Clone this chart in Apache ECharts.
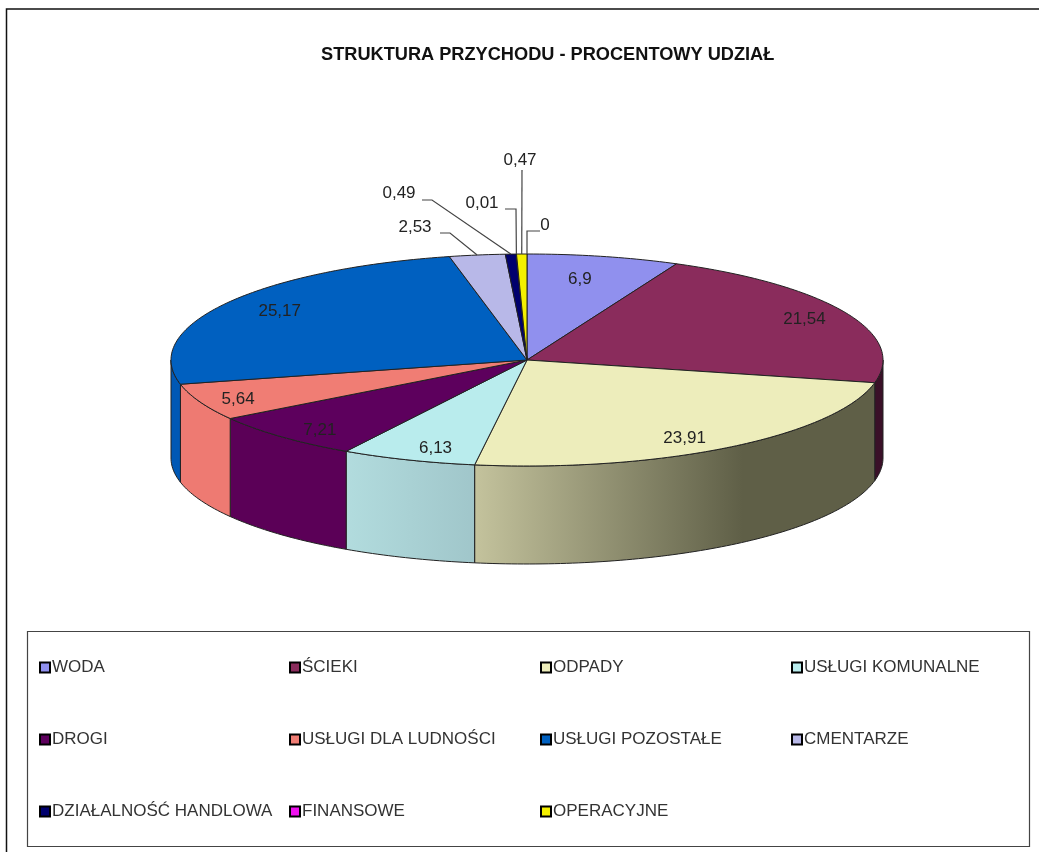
<!DOCTYPE html>
<html>
<head>
<meta charset="utf-8">
<style>
  html, body { margin: 0; padding: 0; background: #fff; }
  #chart { width: 1039px; height: 852px; }
</style>
<script src="https://cdn.jsdelivr.net/npm/echarts@6/dist/echarts.min.js"></script>
</head>
<body>
<div id="chart"></div>
<script>
// dane
var categories = ['WODA', 'ŚCIEKI', 'ODPADY', 'USŁUGI KOMUNALNE', 'DROGI', 'USŁUGI DLA LUDNOŚCI',
  'USŁUGI POZOSTAŁE', 'CMENTARZE', 'DZIAŁALNOŚĆ HANDLOWA', 'FINANSOWE', 'OPERACYJNE', ''];
var values = [6.9, 21.54, 23.91, 6.13, 7.21, 5.64, 25.17, 2.53, 0.49, 0.01, 0.47, 0];

var topColors = ['#9090ee', '#8a2c5c', '#ededbb', '#b9eced', '#5d005d', '#f07d74',
  '#0060c0', '#b8b8e8', '#00006e', '#ee10ee', '#f4f000', '#ffffff'];
var sideColors = ['#5f5f9a', '#3a1028', null, null, '#5b0057', '#ee7a72',
  '#0058b5', '#9090c0', '#00004a', '#a000a0', '#b0b000', '#ffffff'];

var legendColumns = [
  ['WODA', 'DROGI', 'DZIAŁALNOŚĆ HANDLOWA'],
  ['ŚCIEKI', 'USŁUGI DLA LUDNOŚCI', 'FINANSOWE'],
  ['ODPADY', 'USŁUGI POZOSTAŁE', 'OPERACYJNE'],
  ['USŁUGI KOMUNALNE', 'CMENTARZE']
];
var legendLefts = [39, 289, 540, 791];

// geometria "3D"
var cx = 527, cy = 360, rx = 356, ry = 106, depth = 98;

// polozenie etykiet wewnatrz wycinka jako ulamek promienia [x, y]
var labelFactors = [[0.69, 0.78], [0.87, 0.87], [0.78, 0.9], [0.77, 0.88], [0.845, 0.92], [0.884, 0.93], [0.82, 0.87]];
// etykiety z linia odniesienia: indeks wycinka -> tekst i kolanko linii
var outerLabels = {
  7: { text: [415, 227], line: [[440, 233], [450, 233]] },
  8: { text: [399, 193], line: [[422, 200], [432, 200]] },
  9: { text: [482, 203], line: [[505, 209], [516, 209]] },
  10: { text: [520, 160], line: [[522, 170]] },
  11: { text: [545, 225], line: [[540, 231], [527, 231]] }
};

function rimPoint(pct, dy) {
  var a = pct * 3.6 * Math.PI / 180;
  return [cx + rx * Math.sin(a), cy - ry * Math.cos(a) + (dy || 0)];
}

function arcPoints(from, to, dy) {
  var pts = [], n = Math.max(2, Math.ceil((to - from) * 3.6));
  for (var i = 0; i <= n; i++) {
    pts.push(rimPoint(from + (to - from) * i / n, dy));
  }
  return pts;
}

function sideFill(i) {
  if (i === 2) {
    return { type: 'linear', x: 0, y: 0, x2: 1, y2: 0, colorStops: [
      { offset: 0, color: '#c4c39d' }, { offset: 0.67, color: '#5f5f47' }, { offset: 1, color: '#5f5f47' }] };
  }
  if (i === 3) {
    return { type: 'linear', x: 0, y: 0, x2: 1, y2: 0, colorStops: [
      { offset: 0, color: '#b2dcde' }, { offset: 1, color: '#a0c6ca' }] };
  }
  return sideColors[i];
}

function renderSlice(params, api) {
  var i = params.seriesIndex;
  var start = api.value(0), val = api.value(1), end = start + val;
  var children = [];
  var edge = { stroke: '#222', lineWidth: 1 };

  if (val > 0) {
    // sciana boczna tylko na przedniej polowie (25%..75%)
    var s0 = Math.max(start, 25), s1 = Math.min(end, 75);
    if (s1 > s0) {
      var upper = arcPoints(s0, s1, 0);
      var lower = arcPoints(s0, s1, depth).reverse();
      children.push({
        type: 'polygon',
        shape: { points: upper.concat(lower) },
        style: Object.assign({ fill: sideFill(i) }, edge)
      });
    }
    children.push({
      type: 'polygon',
      shape: { points: [[cx, cy]].concat(arcPoints(start, end, 0)) },
      style: Object.assign({ fill: topColors[i] }, edge),
      z2: 1
    });
  }

  var label = String(val).replace('.', ',');
  var mid = start + val / 2;
  var outer = outerLabels[i];
  if (outer) {
    children.push({
      type: 'polyline',
      shape: { points: outer.line.concat([rimPoint(mid, 0)]) },
      style: { fill: null, stroke: '#444', lineWidth: 1.2 },
      z2: 5
    });
    children.push(labelText(label, outer.text[0], outer.text[1]));
  } else {
    var a = mid * 3.6 * Math.PI / 180, f = labelFactors[i];
    children.push(labelText(label, cx + rx * f[0] * Math.sin(a), cy - ry * f[1] * Math.cos(a)));
  }
  return { type: 'group', children: children };
}

function labelText(text, x, y) {
  return {
    type: 'text',
    z2: 10,
    style: { text: text, x: x, y: y, fill: '#222', font: '17px "Liberation Sans"', align: 'center', verticalAlign: 'middle' }
  };
}

var cumulative = 0;
var series = values.map(function (v, i) {
  var row = [cumulative, v];
  cumulative += v;
  return {
    type: 'custom',
    name: categories[i],
    coordinateSystem: 'none',
    silent: true,
    animation: false,
    itemStyle: { color: topColors[i] },
    renderItem: renderSlice,
    data: [row]
  };
});

var legends = legendColumns.map(function (col, i) {
  return {
    data: col,
    orient: 'vertical',
    left: legendLefts[i],
    top: 659,
    itemGap: 55,
    itemWidth: 10,
    itemHeight: 10,
    icon: 'rect',
    padding: 0,
    selectedMode: false,
    itemStyle: { borderColor: '#000', borderWidth: 2 },
    textStyle: { color: '#333', fontFamily: 'Liberation Sans', fontSize: 17, lineHeight: 17, padding: [0, 0, 0, -3] }
  };
});

var option = {
  backgroundColor: '#fff',
  animation: false,
  title: {
    text: 'STRUKTURA PRZYCHODU - PROCENTOWY UDZIAŁ',
    left: 321,
    top: 46,
    padding: 0,
    textStyle: { color: '#111', fontFamily: 'Liberation Sans', fontWeight: 'bold', fontSize: 18.2 }
  },
  legend: legends,
  graphic: [
    { type: 'polyline', silent: true, z: -1,
      shape: { points: [[6.5, 852], [6.5, 9], [1039, 9]] },
      style: { fill: null, stroke: '#111', lineWidth: 1.5 } },
    { type: 'rect', silent: true, z: -1,
      shape: { x: 27.5, y: 631.5, width: 1002, height: 215 },
      style: { fill: '#fff', stroke: '#444', lineWidth: 1.2 } }
  ],
  series: series
};

var myChart = echarts.init(document.getElementById('chart'));
myChart.setOption(option, true);
</script>
</body>
</html>
